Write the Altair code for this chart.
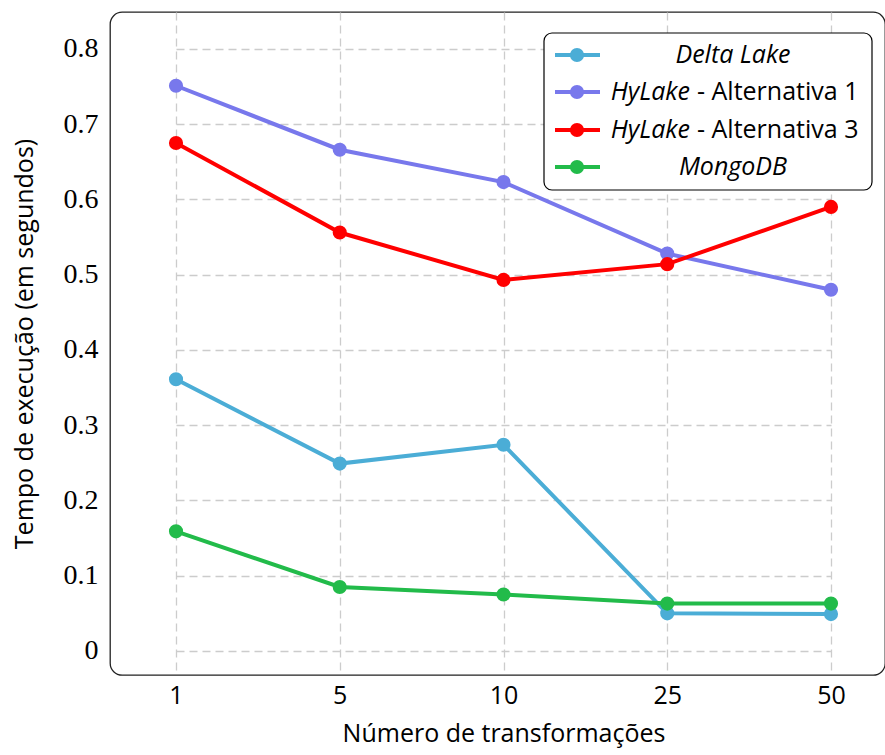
import altair as alt
import pandas as pd

categories = ["1", "5", "10", "25", "50"]
series = ["Delta Lake", "HyLake - Alternativa 1", "HyLake - Alternativa 3", "MongoDB"]
delta_lake = [0.361, 0.249, 0.274, 0.050, 0.049]
hylake_alt1 = [0.751, 0.666, 0.623, 0.528, 0.480]
hylake_alt3 = [0.675, 0.556, 0.493, 0.514, 0.590]
mongodb = [0.159, 0.085, 0.075, 0.063, 0.063]
colors = ["#4badd6", "#7878ec", "#ff0000", "#22bb4a"]
y_ticks = [0, 0.1, 0.2, 0.3, 0.4, 0.5, 0.6, 0.7, 0.8]

rows = []
for name, vals in zip(series, [delta_lake, hylake_alt1, hylake_alt3, mongodb]):
    for c, v in zip(categories, vals):
        rows.append({"n": c, "serie": name, "t": v})
df = pd.DataFrame(rows)

SANS = "Open Sans"
SERIF = "Liberation Serif"

x = alt.X("n:O", sort=categories,
          scale=alt.Scale(type="point", range=[66, 721], padding=0),
          axis=alt.Axis(title="Número de transformações", labelAngle=0,
                        labelFont=SANS, labelFontSize=25, labelPadding=8,
                        titleFont=SANS, titleFontSize=25, titleFontWeight="normal",
                        titlePadding=13, ticks=False, domain=False,
                        grid=True, gridDash=[8, 5], gridColor="#cccccc", gridWidth=1.3,
                        labelColor="black", titleColor="black"))
y = alt.Y("t:Q", scale=alt.Scale(domain=[-0.0319, 0.849], nice=False, zero=False),
          axis=alt.Axis(title="Tempo de execução (em segundos)", values=y_ticks,
                        labelExpr="datum.value == 0 ? '0' : format(datum.value, '.1f')",
                        labelFont=SERIF, labelFontSize=28, labelPadding=12,
                        titleFont=SANS, titleFontSize=25, titleFontWeight="normal",
                        titlePadding=26, ticks=False, domain=False,
                        grid=True, gridDash=[8, 5], gridColor="#cccccc", gridWidth=1.3,
                        labelColor="black", titleColor="black"))
color = alt.Color("serie:N", scale=alt.Scale(domain=series, range=colors), legend=None)

base = alt.Chart(df)
lines = base.mark_line(strokeWidth=4).encode(x=x, y=y, color=color, detail="serie:N")
points = base.mark_point(filled=True, size=200, opacity=1).encode(x=x, y=y, color=color)

layers = [lines, points]

dummy = alt.Chart(pd.DataFrame({"a": [0]}))
layers.append(dummy.mark_rect(fill="white", stroke="black", strokeWidth=1.2, cornerRadius=8).encode(
    x=alt.value(434), x2=alt.value(762), y=alt.value(21), y2=alt.value(178)))

row_y = [43, 80, 118, 155]
for name, col, ry in zip(series, colors, row_y):
    layers.append(dummy.mark_rule(strokeWidth=4, color=col).encode(
        x=alt.value(445), x2=alt.value(490), y=alt.value(ry)))
    layers.append(dummy.mark_point(filled=True, size=200, opacity=1, color=col).encode(
        x=alt.value(467), y=alt.value(ry)))
    if name.startswith("HyLake"):
        rest = name[len("HyLake"):].strip()
        layers.append(dummy.mark_text(text="HyLake", font=SANS, fontSize=25, fontStyle="italic",
                                      align="right", baseline="middle", color="black").encode(
            x=alt.value(580), y=alt.value(ry)))
        layers.append(dummy.mark_text(text=rest, font=SANS, fontSize=25,
                                      align="left", baseline="middle", color="black").encode(
            x=alt.value(587), y=alt.value(ry)))
    else:
        layers.append(dummy.mark_text(text=name, font=SANS, fontSize=25, fontStyle="italic",
                                      align="center", baseline="middle", color="black").encode(
            x=alt.value(623), y=alt.value(ry)))

chart = alt.layer(*layers).properties(
    width=775, height=663,
    autosize=alt.AutoSizeParams(type="none"),
    padding={"left": 110, "top": 12, "right": 0, "bottom": 80},
).configure_view(stroke="#222222", strokeWidth=1.3, cornerRadius=12)

chart.save("out.html", embed_options={"renderer": "svg", "actions": False})
